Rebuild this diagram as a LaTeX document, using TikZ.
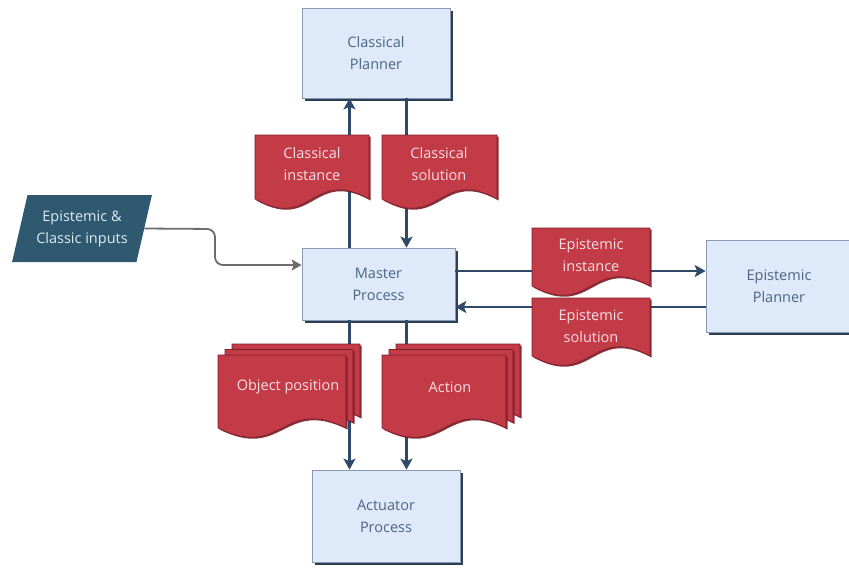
\documentclass[tikz,border=0pt]{standalone}
\usepackage{fontspec}
\setmainfont{Open Sans}
\usepackage{tikz}
\usetikzlibrary{shapes.geometric,arrows.meta,shadows}

\definecolor{docred}{HTML}{C43B48}
\definecolor{docedge}{HTML}{7A1E28}
\definecolor{doctext}{HTML}{F5DEE0}
\definecolor{boxblue}{HTML}{DEE9F9}
\definecolor{boxtext}{HTML}{4E6485}
\definecolor{boxedge}{HTML}{8A9AB0}
\definecolor{shadowc}{HTML}{2C3E55}
\definecolor{inblue}{HTML}{2F5970}
\definecolor{intext}{HTML}{DDEBF3}
\definecolor{flowc}{HTML}{2F4A68}

% document shape: left, right, top, bottom corner
\newcommand{\docshape}[4]{(#1,#3) -- (#2,#3) -- (#2,#4)
  .. controls ({(#1+#2)/2},#4-32) and ({(#1+#2)/2},#4+32) .. (#1,#4) -- cycle}

\begin{document}
\begin{tikzpicture}[x=1pt,y=-1pt,>={Stealth[length=11pt,width=12pt,inset=2.5pt]},
  every node/.style={font=\fontsize{14.5}{22}\selectfont},
  box/.style={rectangle, draw=boxedge, line width=0.7pt, fill=boxblue, text=boxtext, align=center,
    drop shadow={shadow xshift=2.5pt, shadow yshift=-2.5pt, fill=shadowc, opacity=1}},
  docbody/.style={fill=docred, draw=docedge, line width=0.6pt,
    drop shadow={shadow xshift=1.5pt, shadow yshift=-1.5pt, fill=docedge, opacity=0.9}},
  doclabel/.style={text=doctext, align=center},
  flow/.style={draw=flowc, line width=2.6pt}]

\useasboundingbox (0,0) rectangle (849,568);

\node[box, minimum width=148pt, minimum height=90pt] (cplan) at (376,53) {Classical\\Planner};
\node[box, minimum width=153pt, minimum height=72pt] (master) at (378.5,284) {Master\\Process};
\node[box, minimum width=148pt, minimum height=92pt] (act) at (386,516) {Actuator\\Process};
\node[box, minimum width=146pt, minimum height=92pt] (eplan) at (779,286) {Epistemic\\Planner};

\node[trapezium, trapezium left angle=72, trapezium right angle=108, trapezium stretches=true,
  minimum width=140pt, minimum height=67pt, fill=inblue, text=intext, align=center] (inp) at (82,228.5)
  {Epistemic \&\\Classic inputs};

\draw[draw=gray!85!black, line width=1.8pt, rounded corners=8pt, ->, >={Stealth[length=10pt,width=11pt,inset=2pt]}]
  (inp.east) -- (215,229) |- ([yshift=19pt]master.west);

\draw[flow, ->] ([xshift=-29pt]master.north) -- ([xshift=-29pt]master.north |- cplan.south);
\draw[flow, ->] ([xshift=28pt]master.north |- cplan.south) -- ([xshift=28pt]master.north);
\draw[flow, ->] ([xshift=-29pt]master.south) -- ([xshift=-29pt]master.south |- act.north);
\draw[flow, ->] ([xshift=28pt]master.south) -- ([xshift=28pt]master.south |- act.north);
\draw[flow, ->] ([yshift=13pt]master.east) -- ([yshift=13pt]master.east -| eplan.west);
\draw[flow, ->] ([yshift=-23pt]master.east -| eplan.west) -- ([yshift=-23pt]master.east);

% documents on top of the lines
\draw[docbody] \docshape{255}{369}{135}{199};
\node[doclabel] (cinst) at (312,164) {Classical\\instance};
\draw[docbody] \docshape{382}{497}{135}{199};
\node[doclabel] (csol) at (439,164) {Classical\\solution};
\draw[docbody] \docshape{532}{650}{228}{286};
\node[doclabel] (einst) at (591,255) {Epistemic\\instance};
\draw[docbody] \docshape{532}{650}{298}{356};
\node[doclabel] (esol) at (591,326) {Epistemic\\solution};

\foreach \dx/\dy in {14/-11, 7/-5.5, 0/0} {
  \draw[docbody, shift={(\dx,\dy)}] \docshape{218}{346}{355}{428};
  \draw[docbody, shift={(\dx,\dy)}] \docshape{382}{506}{355}{428};
}
\node[doclabel] (objpos) at (288,387) {Object position};
\node[doclabel] (action) at (450,387) {Action};

\end{tikzpicture}
\end{document}
